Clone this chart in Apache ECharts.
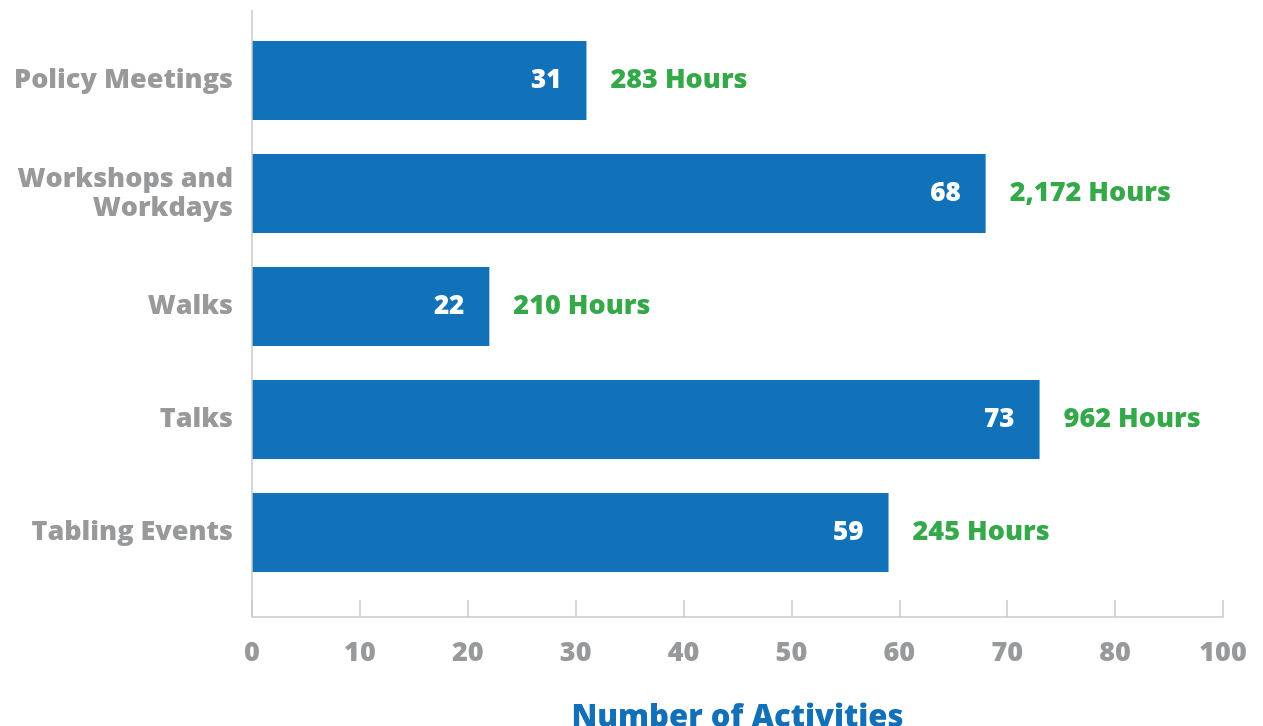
<!DOCTYPE html>
<html>
<head>
<meta charset="utf-8">
<script src="https://cdn.jsdelivr.net/npm/echarts@6/dist/echarts.min.js"></script>
<style>
    html, body { margin: 0; padding: 0; background: #fff; }
    #main { width: 1263px; height: 726px; }
</style>
</head>
<body>
<div id="main"></div>
<script>
var categories = ['Policy Meetings', 'Workshops and\nWorkdays', 'Walks', 'Talks', 'Tabling Events'];
var activities = [31, 68, 22, 73, 59];
var hours = [283, 2172, 210, 962, 245];
// the source axis skips 90 and labels the last tick 100
var tickLabels = ['0', '10', '20', '30', '40', '50', '60', '70', '80', '100'];

var FONT = '"Open Sans", sans-serif';
var GREY = '#98999b';
var LINE = '#c9c9c9';

var chart = echarts.init(document.getElementById('main'));

chart.setOption({
    backgroundColor: '#fff',
    animation: false,
    grid: {
        left: 252,
        right: 40,
        top: 24,
        height: 565,
        outerBoundsMode: 'none',
        containLabel: false
    },
    xAxis: {
        type: 'value',
        min: 0,
        max: 90,
        interval: 10,
        offset: 28,
        axisLine: { show: true, lineStyle: { color: LINE, width: 1.5 } },
        axisTick: { show: true, inside: true, length: 17, lineStyle: { color: LINE, width: 1.5 } },
        splitLine: { show: false },
        axisLabel: {
            margin: 23,
            color: GREY,
            fontFamily: FONT,
            fontWeight: 800,
            fontSize: 27,
            formatter: function (v) { return tickLabels[Math.round(v / 10)]; }
        },
        name: 'Number of Activities',
        nameLocation: 'middle',
        nameGap: 86,
        nameTextStyle: {
            color: '#1170b8',
            fontFamily: FONT,
            fontWeight: 800,
            fontSize: 31
        }
    },
    yAxis: {
        type: 'category',
        inverse: true,
        data: categories,
        axisLine: { show: false },
        axisTick: { show: false },
        axisLabel: {
            margin: 19,
            color: GREY,
            fontFamily: FONT,
            fontWeight: 800,
            fontSize: 27,
            lineHeight: 29,
            align: 'right'
        }
    },
    graphic: [{
        type: 'line',
        shape: { x1: 252, y1: 10, x2: 252, y2: 617 },
        style: { stroke: LINE, lineWidth: 1.5 },
        z: 10
    }],
    series: [{
        type: 'bar',
        data: activities,
        barWidth: 79,
        itemStyle: { color: '#1172b9' },
        label: {
            show: true,
            position: 'insideRight',
            distance: 25,
            color: '#fff',
            fontFamily: FONT,
            fontWeight: 800,
            fontSize: 26
        }
    }, {
        type: 'bar',
        data: activities,
        barWidth: 79,
        barGap: '-100%',
        itemStyle: { color: 'rgba(0,0,0,0)' },
        label: {
            show: true,
            position: 'right',
            distance: 24,
            color: '#35a84a',
            fontFamily: FONT,
            fontWeight: 800,
            fontSize: 27,
            formatter: function (p) {
                return hours[p.dataIndex].toLocaleString('en-US') + ' Hours';
            }
        }
    }]
});
</script>
</body>
</html>
